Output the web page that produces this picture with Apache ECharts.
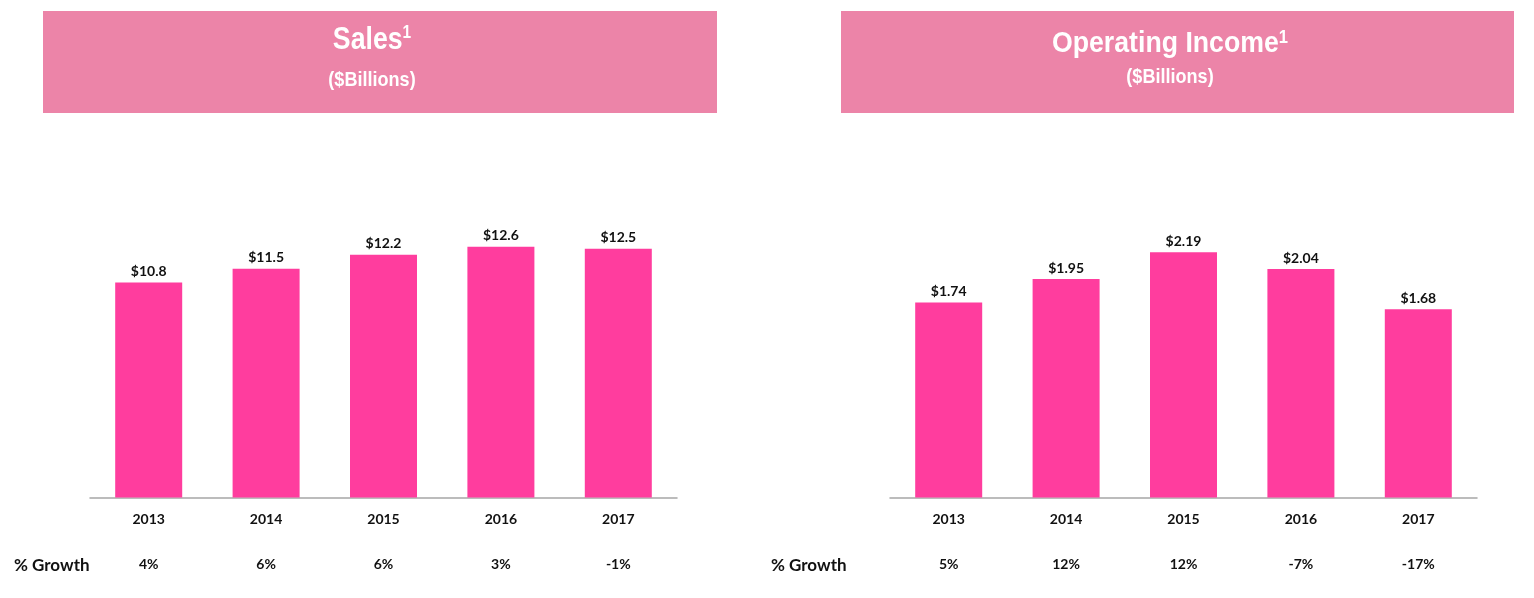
<!DOCTYPE html>
<html>
<head>
<meta charset="utf-8">
<script src="https://cdn.jsdelivr.net/npm/echarts@6/dist/echarts.min.js"></script>
<style>
  html, body { margin: 0; padding: 0; background: #fff; }
  #chart { width: 1534px; height: 598px; }
</style>
</head>
<body>
<div id="chart"></div>
<script>
// data
const years = ['2013', '2014', '2015', '2016', '2017'];
const sales = [10.8, 11.5, 12.2, 12.6, 12.5];
const salesGrowth = ['4%', '6%', '6%', '3%', '-1%'];
const opIncome = [1.74, 1.95, 2.19, 2.04, 1.68];
const opGrowth = ['5%', '12%', '12%', '-7%', '-17%'];

const barColor = '#FF3D9E';
const headColor = '#EC84A8';
const axisGrey = '#A6A6A6';
const labelFont = 'Lato, "Open Sans", sans-serif';
const headFont = '"Liberation Sans", Arial, sans-serif';

const chart = echarts.init(document.getElementById('chart'), null, { renderer: 'canvas' });

function yearAxis(grid) {
    return {
        type: 'category',
        gridIndex: grid,
        data: years,
        axisLine: { lineStyle: { color: axisGrey, width: 1.5 } },
        axisTick: { show: false },
        axisLabel: { margin: 15, color: '#111', fontFamily: labelFont, fontWeight: 'bold', fontSize: 14 }
    };
}

function growthAxis(grid, growth) {
    return {
        type: 'category',
        gridIndex: grid,
        position: 'bottom',
        offset: 45,
        data: growth,
        axisLine: { show: false },
        axisTick: { show: false },
        axisLabel: { margin: 15, color: '#111', fontFamily: labelFont, fontWeight: 'bold', fontSize: 14 }
    };
}

function barSeries(idx, data, digits) {
    return {
        type: 'bar',
        xAxisIndex: idx * 2,
        yAxisIndex: idx,
        data: data,
        barWidth: 67,
        itemStyle: { color: barColor },
        label: {
            show: true,
            position: 'top',
            distance: 4,
            color: '#111',
            fontFamily: labelFont,
            fontWeight: 'bold',
            fontSize: 14,
            formatter: p => '$' + p.value.toFixed(digits)
        },
        silent: true,
        animation: false
    };
}

// header box with title and (subtitle); the slide font is condensed, so squeeze it a bit
function header(x, w, title, t) {
    return [{
        type: 'rect',
        shape: { x: x, y: 11, width: w, height: 102 },
        style: { fill: headColor }
    }, {
        type: 'text',
        x: t.cx,
        y: t.titleY,
        scaleX: t.titleScale,
        style: {
            text: '{m|' + title + '}{s|1}',
            align: 'center',
            verticalAlign: 'middle',
            rich: {
                m: { fontFamily: headFont, fontWeight: 'bold', fontSize: t.titleSize, fill: '#fff', lineHeight: t.titleSize },
                s: { fontFamily: headFont, fontWeight: 'bold', fontSize: 18, fill: '#fff', verticalAlign: 'top', lineHeight: t.titleSize }
            }
        }
    }, {
        type: 'text',
        x: t.cx,
        y: t.subY,
        scaleX: 0.86,
        style: {
            text: '($Billions)',
            align: 'center',
            verticalAlign: 'middle',
            fontFamily: headFont,
            fontWeight: 'bold',
            fontSize: 21,
            fill: '#fff'
        }
    }];
}

function growthTitle(x) {
    return {
        type: 'text',
        x: x,
        y: 566,
        style: {
            text: '% Growth',
            align: 'left',
            verticalAlign: 'middle',
            fontFamily: labelFont,
            fontWeight: 'bold',
            fontSize: 17,
            fill: '#111'
        }
    };
}

const option = {
    backgroundColor: '#fff',
    animation: false,
    grid: [
        { left: 90, width: 587, top: 199, bottom: 100.5 },
        { left: 890, width: 587, top: 217.5, bottom: 100.5 }
    ],
    xAxis: [
        yearAxis(0), growthAxis(0, salesGrowth),
        yearAxis(1), growthAxis(1, opGrowth)
    ],
    yAxis: [
        { type: 'value', gridIndex: 0, min: 0, max: 15, show: false },
        { type: 'value', gridIndex: 1, min: 0, max: 2.5, show: false }
    ],
    series: [
        barSeries(0, sales, 1),
        barSeries(1, opIncome, 2)
    ],
    graphic: [].concat(
        header(43, 674, 'Sales', { cx: 372, titleY: 40, titleSize: 31, titleScale: 0.86, subY: 80 }),
        header(841, 673, 'Operating Income', { cx: 1170, titleY: 44, titleSize: 29, titleScale: 0.92, subY: 77 }),
        [growthTitle(14), growthTitle(771)]
    )
};

chart.setOption(option);
</script>
</body>
</html>
